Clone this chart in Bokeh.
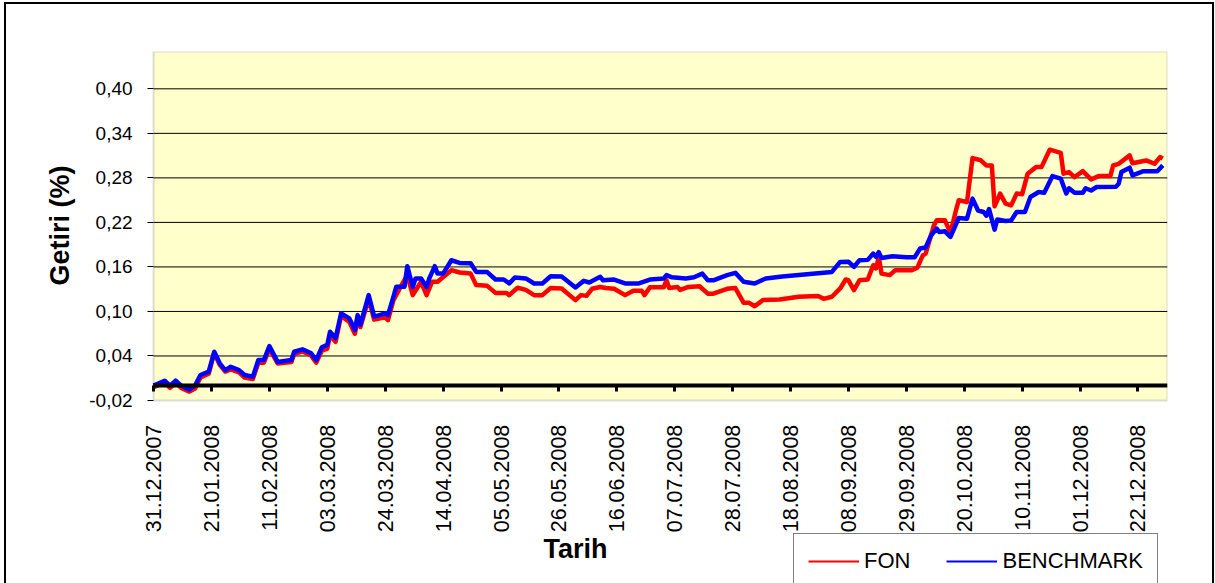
import math
import pandas as pd
from bokeh.plotting import figure
from bokeh.models import (Range1d, FixedTicker, DatetimeTickFormatter, DatetimeAxis, LinearAxis,
                          Legend, LegendItem, Label, Title, BoxAnnotation,
                          CustomJSTickFormatter)
from bokeh.embed import file_html
from bokeh.resources import INLINE

# ---------------- data ----------------
bench_dates = [
    "2007-12-31", "2008-01-04", "2008-01-06", "2008-01-08", "2008-01-10", "2008-01-13",
    "2008-01-15", "2008-01-17", "2008-01-20", "2008-01-22", "2008-01-24", "2008-01-26",
    "2008-01-28", "2008-01-31", "2008-02-02", "2008-02-05", "2008-02-07", "2008-02-09",
    "2008-02-11", "2008-02-14", "2008-02-19", "2008-02-20", "2008-02-23", "2008-02-26",
    "2008-02-28", "2008-03-01", "2008-03-03", "2008-03-04", "2008-03-06", "2008-03-08",
    "2008-03-11", "2008-03-13", "2008-03-14", "2008-03-15", "2008-03-18", "2008-03-20",
    "2008-03-24", "2008-03-25", "2008-03-27", "2008-03-28", "2008-03-31", "2008-04-01",
    "2008-04-03", "2008-04-04", "2008-04-06", "2008-04-08", "2008-04-09", "2008-04-11",
    "2008-04-12", "2008-04-14", "2008-04-17", "2008-04-20", "2008-04-24", "2008-04-26",
    "2008-04-30", "2008-05-03", "2008-05-06", "2008-05-08", "2008-05-10", "2008-05-14",
    "2008-05-17", "2008-05-20", "2008-05-23", "2008-05-27", "2008-06-01", "2008-06-04",
    "2008-06-06", "2008-06-10", "2008-06-11", "2008-06-15", "2008-06-19", "2008-06-24",
    "2008-06-28", "2008-07-03", "2008-07-04", "2008-07-06", "2008-07-11", "2008-07-14",
    "2008-07-17", "2008-07-19", "2008-07-21", "2008-07-26", "2008-07-29", "2008-08-01",
    "2008-08-05", "2008-08-09", "2008-08-15", "2008-08-21", "2008-09-02", "2008-09-05",
    "2008-09-08", "2008-09-10", "2008-09-12", "2008-09-15", "2008-09-17", "2008-09-18",
    "2008-09-19", "2008-09-20", "2008-09-24", "2008-09-29", "2008-10-02", "2008-10-04",
    "2008-10-06", "2008-10-08", "2008-10-10", "2008-10-11", "2008-10-13", "2008-10-15",
    "2008-10-16", "2008-10-18", "2008-10-21", "2008-10-23", "2008-10-25", "2008-10-27",
    "2008-10-28", "2008-10-29", "2008-10-31", "2008-11-01", "2008-11-04", "2008-11-06",
    "2008-11-08", "2008-11-11", "2008-11-13", "2008-11-16", "2008-11-18", "2008-11-21",
    "2008-11-24", "2008-11-26", "2008-11-27", "2008-11-29", "2008-12-02", "2008-12-03",
    "2008-12-05", "2008-12-07", "2008-12-14", "2008-12-15", "2008-12-16", "2008-12-19",
    "2008-12-20", "2008-12-24", "2008-12-29", "2008-12-31",
]
bench_values = [
    0.000, 0.0067, 0.000, 0.0067, 0.000, -0.005,
    0.000, 0.0144, 0.0188, 0.0457, 0.0301, 0.021,
    0.0255, 0.021, 0.0144, 0.0122, 0.0345, 0.0345,
    0.0533, 0.032, 0.0345, 0.0457, 0.049, 0.044,
    0.0345, 0.0517, 0.055, 0.0726, 0.064, 0.0974,
    0.0907, 0.0749, 0.0951, 0.082, 0.122, 0.093,
    0.0974, 0.095, 0.120, 0.1333, 0.1333, 0.161,
    0.133, 0.1445, 0.1445, 0.133, 0.1445, 0.161,
    0.151, 0.151, 0.169, 0.1654, 0.165, 0.1533,
    0.153, 0.143, 0.143, 0.1377, 0.1458, 0.1445,
    0.1377, 0.1377, 0.1475, 0.147, 0.1323, 0.1412,
    0.139, 0.1466, 0.142, 0.143, 0.1377, 0.1377,
    0.143, 0.1445, 0.149, 0.146, 0.1445, 0.146,
    0.151, 0.142, 0.142, 0.149, 0.152, 0.140,
    0.1377, 0.1445, 0.147, 0.149, 0.1533, 0.1668,
    0.167, 0.160, 0.169, 0.1695, 0.178, 0.1735,
    0.180, 0.172, 0.1745, 0.173, 0.173, 0.1848,
    0.1862, 0.2027, 0.2117, 0.207, 0.208, 0.2004,
    0.209, 0.226, 0.225, 0.252, 0.236, 0.234,
    0.229, 0.238, 0.2103, 0.224, 0.222, 0.2225,
    0.234, 0.234, 0.2542, 0.261, 0.260, 0.2824,
    0.279, 0.259, 0.266, 0.260, 0.260, 0.266,
    0.263, 0.2677, 0.268, 0.272, 0.2878, 0.2937,
    0.2835, 0.289, 0.289, 0.2968,
]

fon_dates = [
    "2007-12-31", "2008-01-04", "2008-01-06", "2008-01-08", "2008-01-10", "2008-01-13",
    "2008-01-15", "2008-01-17", "2008-01-20", "2008-01-22", "2008-01-24", "2008-01-26",
    "2008-01-28", "2008-01-31", "2008-02-02", "2008-02-05", "2008-02-07", "2008-02-09",
    "2008-02-11", "2008-02-14", "2008-02-19", "2008-02-20", "2008-02-23", "2008-02-26",
    "2008-02-28", "2008-03-01", "2008-03-03", "2008-03-04", "2008-03-06", "2008-03-08",
    "2008-03-11", "2008-03-13", "2008-03-14", "2008-03-15", "2008-03-18", "2008-03-20",
    "2008-03-24", "2008-03-25", "2008-03-27", "2008-03-29", "2008-04-01", "2008-04-03",
    "2008-04-06", "2008-04-08", "2008-04-10", "2008-04-12", "2008-04-17", "2008-04-20",
    "2008-04-24", "2008-04-26", "2008-04-30", "2008-05-03", "2008-05-07", "2008-05-08",
    "2008-05-11", "2008-05-14", "2008-05-17", "2008-05-20", "2008-05-23", "2008-05-27",
    "2008-06-01", "2008-06-03", "2008-06-05", "2008-06-07", "2008-06-10", "2008-06-12",
    "2008-06-15", "2008-06-19", "2008-06-22", "2008-06-25", "2008-06-26", "2008-06-28",
    "2008-07-03", "2008-07-04", "2008-07-05", "2008-07-08", "2008-07-09", "2008-07-12",
    "2008-07-16", "2008-07-19", "2008-07-21", "2008-07-26", "2008-07-29", "2008-08-01",
    "2008-08-03", "2008-08-05", "2008-08-08", "2008-08-14", "2008-08-21", "2008-08-28",
    "2008-08-30", "2008-09-02", "2008-09-05", "2008-09-07", "2008-09-08", "2008-09-10",
    "2008-09-12", "2008-09-15", "2008-09-17", "2008-09-18", "2008-09-19", "2008-09-20",
    "2008-09-23", "2008-09-25", "2008-10-01", "2008-10-03", "2008-10-05", "2008-10-06",
    "2008-10-09", "2008-10-10", "2008-10-13", "2008-10-15", "2008-10-17", "2008-10-18",
    "2008-10-21", "2008-10-23", "2008-10-26", "2008-10-28", "2008-10-30", "2008-10-31",
    "2008-11-02", "2008-11-04", "2008-11-06", "2008-11-08", "2008-11-10", "2008-11-12",
    "2008-11-15", "2008-11-17", "2008-11-20", "2008-11-24", "2008-11-25", "2008-11-27",
    "2008-11-29", "2008-12-02", "2008-12-05", "2008-12-08", "2008-12-12", "2008-12-13",
    "2008-12-15", "2008-12-19", "2008-12-20", "2008-12-25", "2008-12-28", "2008-12-30",
    "2008-12-31",
]
fon_values = [
    -0.002, 0.004, -0.003, 0.004, -0.003, -0.008,
    -0.004, 0.011, 0.016, 0.044, 0.028, 0.019,
    0.022, 0.018, 0.011, 0.009, 0.031, 0.031,
    0.050, 0.030, 0.032, 0.043, 0.046, 0.041,
    0.031, 0.047, 0.050, 0.068, 0.059, 0.094,
    0.086, 0.070, 0.089, 0.079, 0.117, 0.089,
    0.092, 0.0884, 0.1153, 0.129, 0.149, 0.122,
    0.140, 0.122, 0.140, 0.140, 0.1556, 0.1525,
    0.151, 0.1355, 0.1345, 0.125, 0.125, 0.122,
    0.132, 0.129, 0.122, 0.122, 0.1315, 0.131,
    0.1153, 0.122, 0.121, 0.1305, 0.133, 0.1315,
    0.1305, 0.122, 0.128, 0.128, 0.122, 0.1325,
    0.1325, 0.142, 0.1315, 0.133, 0.129, 0.133,
    0.134, 0.124, 0.124, 0.1305, 0.1315, 0.1116,
    0.1116, 0.107, 0.1153, 0.116, 0.1198, 0.1207,
    0.117, 0.1198, 0.131, 0.143, 0.142, 0.1288,
    0.142, 0.143, 0.1623, 0.158, 0.1733, 0.151,
    0.149, 0.1556, 0.1556, 0.159, 0.1758, 0.178,
    0.2161, 0.2228, 0.2228, 0.2058, 0.2363, 0.2498,
    0.2475, 0.3067, 0.3037, 0.2967, 0.2967, 0.2417,
    0.2588, 0.2453, 0.243, 0.2588, 0.258, 0.2857,
    0.2945, 0.2945, 0.318, 0.3137, 0.2857, 0.2878,
    0.281, 0.289, 0.278, 0.2826, 0.2826, 0.2967,
    0.299, 0.3103, 0.2998, 0.3035, 0.299, 0.308,
    0.306,
]

x_tick_labels = ["31.12.2007", "21.01.2008", "11.02.2008", "03.03.2008", "24.03.2008",
                 "14.04.2008", "05.05.2008", "26.05.2008", "16.06.2008", "07.07.2008",
                 "28.07.2008", "18.08.2008", "08.09.2008", "29.09.2008", "20.10.2008",
                 "10.11.2008", "01.12.2008", "22.12.2008"]
y_ticks = [-0.02, 0.04, 0.10, 0.16, 0.22, 0.28, 0.34, 0.40]
series_names = ["FON", "BENCHMARK"]
series_colors = ["#FF0000", "#0000FF"]

# ---------------- layout constants ----------------
FONT = "Liberation Sans"
PLOT_LEFT = pd.Timestamp("2007-12-31")          # left edge of the yellow plot area
FRAME_LEFT = pd.Timestamp("2007-12-04 12:00")   # frame extended left to hold the y labels
FRAME_RIGHT = pd.Timestamp("2009-01-01 17:00")
Y_MIN_PLOT = -0.02                               # bottom of the yellow plot area
Y_MAX = 0.4503
Y_MIN_FRAME = -0.2666                            # frame extended down to the page bottom

def ms(ts):
    return float(ts.value // 10**6)

x_ticks_ms = [float(v) for v in pd.to_datetime(x_tick_labels, format="%d.%m.%Y").asi8 // 10**6]

p = figure(width=1206, height=579, output_backend="svg", toolbar_location=None,
           x_axis_type="datetime", x_axis_location=None, y_axis_location=None,
           x_range=Range1d(FRAME_LEFT, FRAME_RIGHT),
           y_range=Range1d(Y_MIN_FRAME, Y_MAX),
           min_border_left=74, min_border_right=45, min_border_top=47, min_border_bottom=0)
p.styles = {"margin-left": "6px", "margin-top": "4px", "outline": "2px solid #000000"}
p.background_fill_color = "#FFFFFF"
p.border_fill_color = "#FFFFFF"
p.outline_line_color = None
p.grid.visible = False

# yellow plot area with grey border
p.add_layout(BoxAnnotation(left=PLOT_LEFT, bottom=Y_MIN_PLOT, fill_color="#FFFFCC",
                           fill_alpha=1, line_color="#8A8A8A", line_width=2, level="image"))

# horizontal gridlines across the plot area
grid_y = y_ticks[1:]
p.segment(x0=[PLOT_LEFT] * len(grid_y), x1=[FRAME_RIGHT] * len(grid_y),
          y0=grid_y, y1=grid_y, line_color="#000000", line_width=1)

# x axis: thick line at y = 0 with ticks below it, labels lower down
xt = FixedTicker(ticks=x_ticks_ms, num_minor_ticks=0)
fmt = DatetimeTickFormatter(days="%d.%m.%Y", months="%d.%m.%Y", years="%d.%m.%Y")
zero_axis = DatetimeAxis(fixed_location=0, ticker=xt, formatter=fmt,
                         bounds=(ms(PLOT_LEFT), ms(FRAME_RIGHT)),
                         axis_line_color="#000000", axis_line_width=4,
                         major_tick_out=6, major_tick_in=0, major_tick_line_width=3,
                         major_tick_line_color="#000000", minor_tick_line_color=None,
                         major_label_orientation=math.pi / 2, major_label_standoff=33,
                         major_label_text_font=FONT, major_label_text_font_size="21.5px",
                         major_label_text_color="#000000")
p.add_layout(zero_axis, "below")

# y axis at the left edge of the plot area
y_axis = LinearAxis(fixed_location=ms(PLOT_LEFT),
                    ticker=FixedTicker(ticks=y_ticks, num_minor_ticks=0),
                    formatter=CustomJSTickFormatter(code="return tick.toFixed(2).replace('.', ',');"),
                    axis_line_color=None, major_tick_out=6, major_tick_in=0,
                    major_tick_line_color="#000000", minor_tick_line_color=None,
                    major_label_standoff=15, major_label_text_font=FONT,
                    major_label_text_font_size="19px", major_label_text_color="#000000")
p.add_layout(y_axis, "left")

p.add_layout(Title(text="Getiri (%)", align="right", offset=114, standoff=12,
                   text_font=FONT, text_font_size="27px", text_font_style="bold",
                   text_color="#000000"), "left")

r_fon = p.line(pd.to_datetime(fon_dates), fon_values, line_color=series_colors[0],
               line_width=4.5, line_join="round")
r_bench = p.line(pd.to_datetime(bench_dates), bench_values, line_color=series_colors[1],
                 line_width=4.5, line_join="round")

# legend proxies (thin lines as in the original legend; a single point draws nothing)
proxy_fon = p.line(x=pd.to_datetime(fon_dates[:1]), y=fon_values[:1],
                   line_color=series_colors[0], line_width=2)
proxy_bench = p.line(x=pd.to_datetime(bench_dates[:1]), y=bench_values[:1],
                     line_color=series_colors[1], line_width=2)

legend = Legend(items=[LegendItem(label=series_names[0], renderers=[proxy_fon]),
                       LegendItem(label=series_names[1], renderers=[proxy_bench])],
                orientation="horizontal", location=(713, -6),
                label_text_font=FONT, label_text_font_size="22px", label_text_color="#000000",
                glyph_width=51, glyph_height=22, label_standoff=5, spacing=36,
                padding=14, margin=0, border_line_color="#000000", border_line_width=1,
                background_fill_color="#FFFFFF", background_fill_alpha=1)
p.add_layout(legend, "center")

p.add_layout(Label(x=495, y=35, x_units="screen", y_units="screen", text="Tarih",
                   text_align="center", text_baseline="middle", text_font=FONT,
                   text_font_size="27px", text_font_style="bold", text_color="#000000"))

open("out.html", "w").write(file_html(p, INLINE))
